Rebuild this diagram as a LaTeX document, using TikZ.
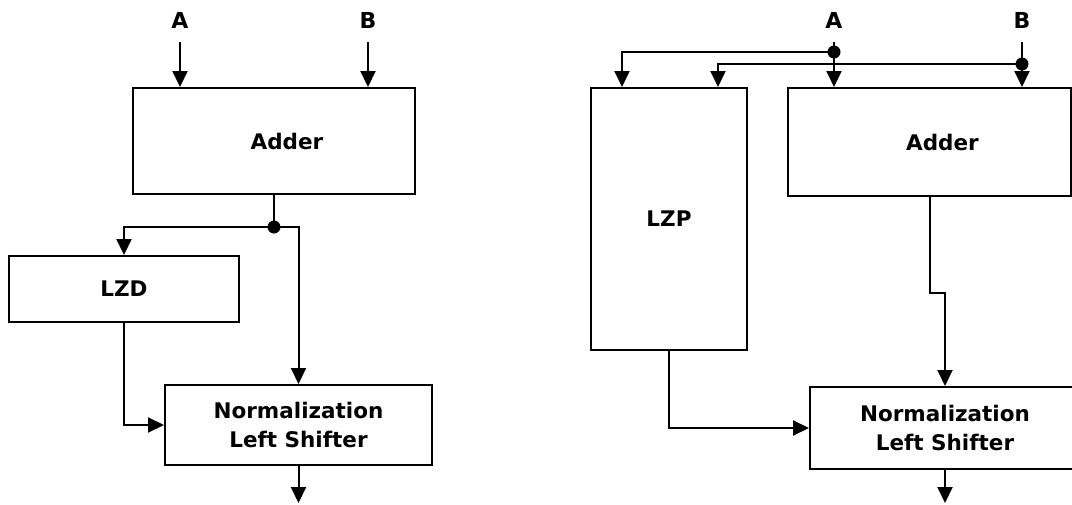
\documentclass[tikz,border=0pt]{standalone}
\usepackage{fontspec}
\setmainfont{DejaVu Sans}
\usetikzlibrary{arrows.meta,calc}
\begin{document}
\begin{tikzpicture}[x=1pt,y=-1pt,
  box/.style={draw, line width=2pt, inner sep=0pt, font=\fontsize{21.5}{29}\selectfont\bfseries, align=center},
  lbl/.style={font=\fontsize{22}{24}\selectfont\bfseries, inner sep=0pt},
  conn/.style={line width=2pt},
  arr/.style={conn, -{Triangle[length=16pt,width=15pt]}},
  dot/.style={circle, fill, inner sep=0pt, minimum size=13pt}]
\useasboundingbox (0,0) rectangle (1072,504);
\clip (0,0) rectangle (1072,504);
% ---------- left diagram ----------
\node[lbl] (A1) at (180,20) {A};
\node[lbl] (B1) at (368,20) {B};
\coordinate (a1s) at (180,42);
\coordinate (b1s) at (368,42);
\node[box, minimum width=282pt, minimum height=106pt] (add1) at (274,141) {\hspace*{26pt}Adder};
\node[box, minimum width=230pt, minimum height=66pt] (lzd) at (124,289) {LZD};
\node[box, minimum width=267pt, minimum height=80pt] (norm1) at (298.5,425) {Normalization\\Left Shifter};
\node[dot] (dot1) at (274,227) {};
\coordinate (out1) at (298.5,503);
\draw[arr] (a1s) -- (a1s |- add1.north);
\draw[arr] (b1s) -- (b1s |- add1.north);
\draw[conn] (add1.south) -- (dot1.center);
\draw[arr] (dot1.center) -| (lzd.north);
\draw[arr] (dot1.center) -| (norm1.north);
\draw[arr] (lzd.south) |- (norm1.west);
\draw[arr] (norm1.south) -- (out1);
% ---------- right diagram ----------
\node[lbl] (A2) at (834,20) {A};
\node[lbl] (B2) at (1022,20) {B};
\coordinate (a2s) at (834,42);
\coordinate (b2s) at (1022,42);
\node[box, minimum width=156pt, minimum height=262pt] (lzp) at (669,219) {LZP};
\node[box, minimum width=283pt, minimum height=108pt] (add2) at (929.5,142) {\hspace*{26pt}Adder};
\node[box, minimum width=270pt, minimum height=82pt] (norm2) at (945,428) {Normalization\\Left Shifter};
\node[dot] (dotA) at (834,52) {};
\node[dot] (dotB) at (1022,64) {};
\coordinate (lzpA) at ($(lzp.north)+(-47,0)$);
\coordinate (lzpB) at ($(lzp.north)+(49,0)$);
\coordinate (jog) at ($(add2.south)+(0,96)$);
\coordinate (out2) at (945,503);
\draw[conn] (a2s) -- (dotA.center);
\draw[conn] (b2s) -- (dotB.center);
\draw[arr] (dotA.center) -- (dotA.center |- add2.north);
\draw[arr] (dotB.center) -- (dotB.center |- add2.north);
\draw[arr] (dotA.center) -| (lzpA);
\draw[arr] (dotB.center) -| (lzpB);
\draw[arr] (add2.south) -- (jog) -| (norm2.north);
\draw[arr] (lzp.south) |- (norm2.west);
\draw[arr] (norm2.south) -- (out2);
\end{tikzpicture}
\end{document}
